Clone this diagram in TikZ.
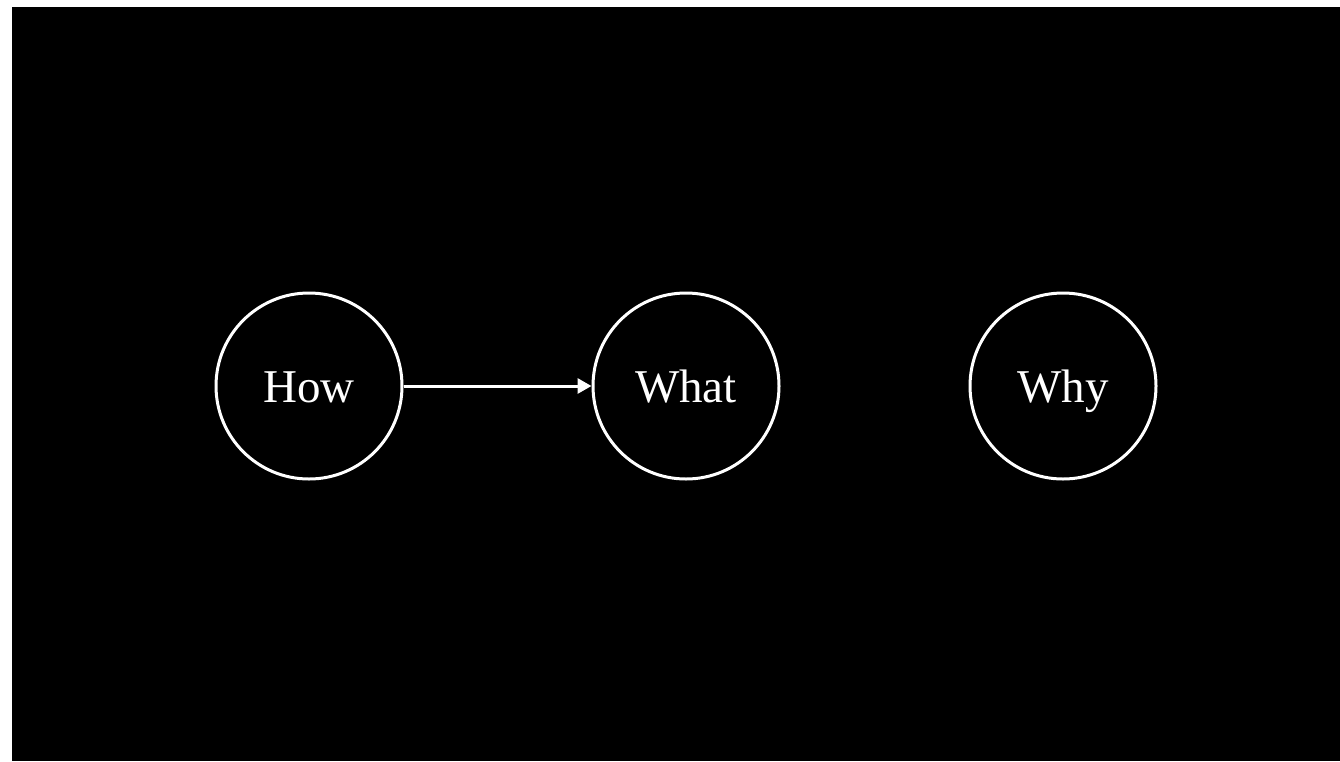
\documentclass[tikz,border=0pt]{standalone}
\usepackage{fontspec}
\setmainfont{Liberation Serif}
\usetikzlibrary{arrows.meta}
\begin{document}
\begin{tikzpicture}[x=1pt,y=-1pt,
  stage/.style={circle,draw=white,line width=3pt,minimum size=186pt,inner sep=0pt,
    text=white,text height=32pt,text depth=0pt,font=\fontsize{47}{52}\selectfont},
  link/.style={draw=white,line width=3pt,-{Triangle[length=14pt,width=15pt]}}]
\useasboundingbox (0,0) rectangle (1340,761);
\fill[white] (0,0) rectangle (1340,761);
\fill[black] (12,7) rectangle (1340,761);
\node[stage] (how) at (309,386) {How};
\node[stage] (what) at (686,386) {What};
\node[stage] (why) at (1063,386) {Why};
\draw[link] (how) -- (what);
\end{tikzpicture}
\end{document}
